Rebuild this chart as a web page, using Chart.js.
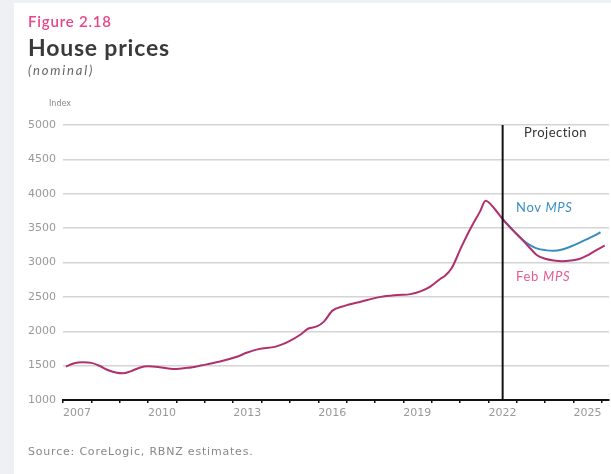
<!DOCTYPE html>
<html>
<head>
<meta charset="utf-8">
<script src="https://cdn.jsdelivr.net/npm/chart.js@4"></script>
<style>
  html, body { margin: 0; padding: 0; }
  body { width: 611px; height: 474px; background: #eef1f4; position: relative; overflow: hidden; font-family: "DejaVu Sans", sans-serif; }
  #panel { position: absolute; left: 14px; top: 3px; width: 597px; height: 471px; background: #fff; }
  #wrap { position: absolute; left: 0; top: 0; width: 611px; height: 474px; }
  .txt { position: absolute; white-space: nowrap; }
</style>
</head>
<body>
<div id="panel"></div>
<div id="wrap"><canvas id="chart" width="611" height="474"></canvas></div>
<div class="txt" style="left:28px;top:12px;font:600 15px Lato, sans-serif;letter-spacing:0.8px;color:#e8468a;">Figure 2.18</div>
<div class="txt" style="left:28px;top:33px;font:700 23px Lato, sans-serif;letter-spacing:0.8px;color:#3a3a3a;">House prices</div>
<div class="txt" style="left:28px;top:62px;font:italic 13px Lato, sans-serif;letter-spacing:1.8px;color:#666;">(nominal)</div>
<div class="txt" style="left:49px;top:99px;font:8px 'DejaVu Sans', sans-serif;color:#888;">Index</div>
<div class="txt" style="left:524px;top:124px;font:13px Lato, sans-serif;letter-spacing:0.5px;color:#333;">Projection</div>
<div class="txt" style="left:516px;top:199px;font:13px Lato, sans-serif;letter-spacing:0.7px;color:#3b8fc2;">Nov <i>MPS</i></div>
<div class="txt" style="left:516px;top:268px;font:13px Lato, sans-serif;letter-spacing:0.7px;color:#e85a92;">Feb <i>MPS</i></div>
<div class="txt" style="left:28px;top:445px;font:11px 'DejaVu Sans', sans-serif;letter-spacing:0.8px;color:#888;">Source: CoreLogic, RBNZ estimates.</div>
<script>
// history (shared by both MPS lines)
const histYears = [2007.1, 2007.4, 2007.7, 2008.0, 2008.3, 2008.6, 2008.9, 2009.1, 2009.4, 2009.7,
  2010.0, 2010.4, 2010.9, 2011.4, 2011.9, 2012.5, 2013.1, 2013.5, 2013.9, 2014.5,
  2015.0, 2015.35, 2015.65, 2015.95, 2016.2, 2016.5, 2016.9, 2017.5, 2018.2, 2018.8,
  2019.25, 2019.6, 2019.95, 2020.3, 2020.45, 2020.7, 2021.05, 2021.4, 2021.7, 2021.9,
  2022.25, 2022.5, 2022.85, 2023.2];
const histValues = [1485, 1535, 1548, 1540, 1494, 1432, 1395, 1388, 1420, 1470,
  1490, 1478, 1450, 1468, 1505, 1555, 1625, 1690, 1740, 1776,
  1860, 1945, 2040, 2070, 2140, 2300, 2365, 2430, 2500, 2527,
  2540, 2580, 2650, 2760, 2800, 2915, 3230, 3520, 3740, 3900,
  3764, 3630, 3475, 3330];

// projections
const novYears = [2022.5, 2022.85, 2023.2, 2023.45, 2023.7, 2024.0, 2024.3, 2024.6, 2024.9, 2025.2, 2025.5, 2025.75, 2025.95];
const novValues = [3630, 3475, 3330, 3255, 3205, 3180, 3172, 3190, 3232, 3285, 3345, 3395, 3440];
const febYears = [2023.45, 2023.7, 2024.0, 2024.3, 2024.6, 2024.9, 2025.2, 2025.45, 2025.7, 2026.1];
const febValues = [3215, 3110, 3055, 3030, 3020, 3028, 3050, 3095, 3155, 3245];

const projectionStart = 2022.5;
const yTicks = [1000, 1500, 2000, 2500, 3000, 3500, 4000, 4500, 5000];
const xLabelYears = [2007, 2010, 2013, 2016, 2019, 2022, 2025];

const toPts = (xs, ys) => xs.map((x, i) => ({ x: x, y: ys[i] }));
const febPts = toPts(histYears, histValues).concat(toPts(febYears, febValues));
const novPts = toPts(novYears, novValues);

const ctx = document.getElementById('chart').getContext('2d');
new Chart(ctx, {
  type: 'line',
  data: {
    datasets: [
      {
        label: 'Projection line',
        data: [{ x: projectionStart, y: 1000 }, { x: projectionStart, y: 5000 }],
        borderColor: '#111',
        borderWidth: 2,
        pointRadius: 0,
        tension: 0,
        order: 0
      },
      {
        label: 'Nov MPS',
        data: novPts,
        borderColor: '#3a8bbf',
        borderWidth: 2,
        pointRadius: 0,
        cubicInterpolationMode: 'monotone',
        order: 2
      },
      {
        label: 'Feb MPS',
        data: febPts,
        borderColor: '#b0306d',
        borderWidth: 2,
        pointRadius: 0,
        cubicInterpolationMode: 'monotone',
        order: 1
      }
    ]
  },
  options: {
    responsive: false,
    animation: false,
    events: [],
    layout: { padding: { left: 0, right: 2, top: 125, bottom: 0 } },
    plugins: {
      legend: { display: false },
      tooltip: { enabled: false }
    },
    scales: {
      x: {
        type: 'linear',
        min: 2007,
        max: 2026.25,
        afterBuildTicks: (scale) => {
          const t = [];
          for (let y = 2007; y <= 2026; y++) t.push({ value: y });
          scale.ticks = t;
        },
        afterFit: (scale) => { scale.height = 74; },
        border: { display: true, color: '#111', width: 2 },
        grid: { display: true, drawOnChartArea: false, drawTicks: true, tickLength: 3, color: '#111', lineWidth: 1.5 },
        ticks: {
          autoSkip: false,
          maxRotation: 0,
          padding: 4,
          labelOffset: 14,
          color: '#999',
          font: { family: 'DejaVu Sans', size: 11 },
          callback: (v) => xLabelYears.includes(v) ? String(v) : ''
        }
      },
      y: {
        min: 1000,
        max: 5000,
        afterBuildTicks: (scale) => { scale.ticks = yTicks.map(v => ({ value: v })); },
        afterFit: (scale) => { scale.width = 63; },
        border: { display: false },
        grid: { color: '#d4d4d4', lineWidth: 1.5, drawTicks: false },
        ticks: {
          padding: 7,
          color: '#999',
          font: { family: 'DejaVu Sans', size: 11 },
          callback: (v) => String(v)
        }
      }
    }
  }
});
</script>
</body>
</html>
